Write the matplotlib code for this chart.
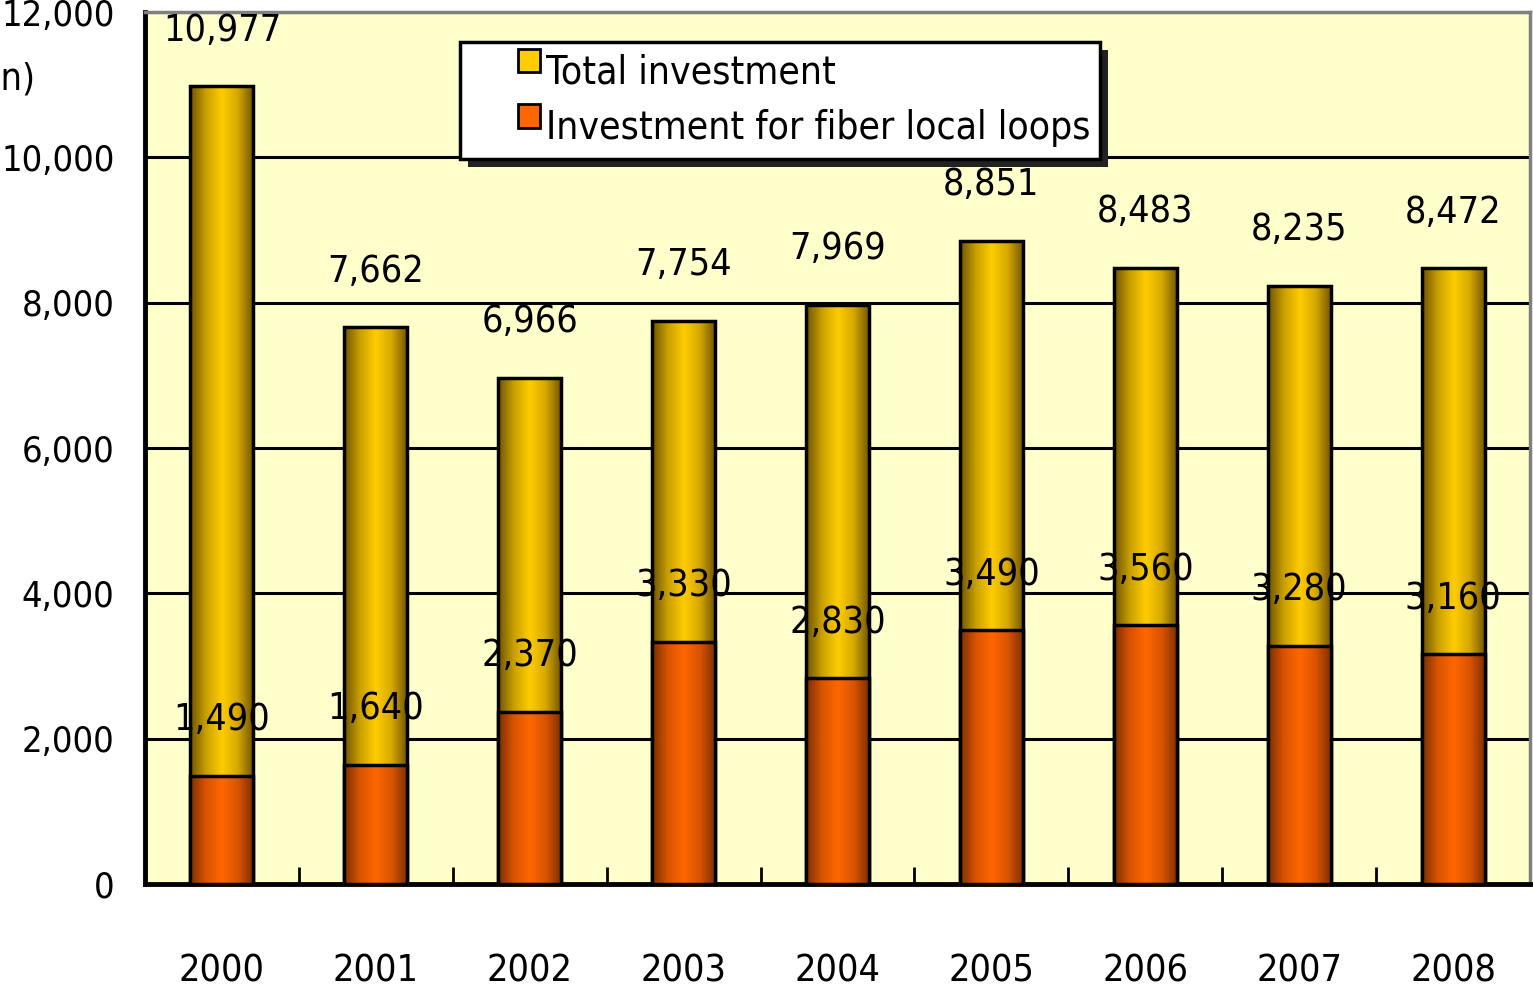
import numpy as np
import matplotlib
matplotlib.use("Agg")
import matplotlib.pyplot as plt
from matplotlib.patches import Rectangle
from matplotlib.legend_handler import HandlerBase
from matplotlib.colors import LinearSegmentedColormap

plt.rcParams['font.family'] = ['DejaVu Sans']
plt.rcParams['font.stretch'] = 'condensed'

years = ["2000", "2001", "2002", "2003", "2004", "2005", "2006", "2007", "2008"]
total = [10977, 7662, 6966, 7754, 7969, 8851, 8483, 8235, 8472]
fiber = [1490, 1640, 2370, 3330, 2830, 3490, 3560, 3280, 3160]
yticks = [0, 2000, 4000, 6000, 8000, 10000, 12000]

yellow_cmap = LinearSegmentedColormap.from_list(
    "yel", ["#6e5200", "#c9a000", "#ffcc00", "#d4a800", "#6e5200"])
orange_cmap = LinearSegmentedColormap.from_list(
    "org", ["#7a2e00", "#d85400", "#ff6600", "#d85400", "#7a2e00"])
grad = np.linspace(0, 1, 256).reshape(1, -1)

fs = 27

fig = plt.figure(figsize=(15.33, 9.96), dpi=100)
ax = fig.add_axes([145 / 1533, 112 / 996, 1385 / 1533, 872 / 996])
ax.set_facecolor("#ffffcc")

x = np.arange(len(years))
bw = 0.41


def gradient_bars(bars, cmap):
    for b in bars:
        x0, w, h = b.get_x(), b.get_width(), b.get_height()
        ax.imshow(grad, cmap=cmap, extent=(x0, x0 + w, 0, h),
                  aspect="auto", zorder=b.get_zorder() - 0.1, interpolation="bicubic")
        b.set_facecolor("none")


tb = ax.bar(x, total, bw, edgecolor="black", linewidth=2.5, zorder=3)
gradient_bars(tb, yellow_cmap)
fb = ax.bar(x, fiber, bw, edgecolor="black", linewidth=2.5, zorder=5)
gradient_bars(fb, orange_cmap)

for xi, t, f in zip(x, total, fiber):
    ax.annotate(f"{t:,}", (xi, t), xytext=(0, 40), textcoords="offset points",
                ha="center", va="center", fontsize=fs, zorder=7)
    ax.annotate(f"{f:,}", (xi, f), xytext=(0, 40), textcoords="offset points",
                ha="center", va="center", fontsize=fs, zorder=7)

ax.set_xlim(-0.5, len(years) - 0.5)
ax.set_ylim(0, 12000)
ax.set_yticks(yticks)
ax.set_yticklabels([f"{v:,}" for v in yticks], fontsize=26)
ax.yaxis.grid(True, color="black", linewidth=2.2, zorder=1)
ax.set_axisbelow(True)
ax.tick_params(axis="y", direction="in", length=10, width=2, pad=22)

ax.set_xticks(x)
ax.set_xticklabels(years, fontsize=fs)
ax.set_xticks(np.arange(0.5, len(years) - 1, 1.0), minor=True)
ax.tick_params(axis="x", which="major", length=0, pad=50)
ax.tick_params(axis="x", which="minor", direction="in", length=12, width=2)

ax.spines["left"].set_linewidth(3.5)
ax.spines["bottom"].set_linewidth(3.5)
ax.spines["top"].set_color("#808080")
ax.spines["top"].set_linewidth(2.5)
ax.spines["right"].set_color("#808080")
ax.spines["right"].set_linewidth(2.5)

fig.text(35 / 1533, 1 - 80 / 996, "(100 million yen)", ha="right", va="center", fontsize=fs)


class GradHandle(HandlerBase):
    def __init__(self, cmap):
        super().__init__()
        self.cmap = cmap

    def create_artists(self, legend, orig_handle, xdescent, ydescent,
                       width, height, fontsize, trans):
        s = fontsize * 0.55
        r = Rectangle((width - s, height * 0.5 - s * 0.1), s, s * 1.1,
                      facecolor=self.cmap(0.5), edgecolor="black", linewidth=2,
                      transform=trans)
        return [r]


h1 = Rectangle((0, 0), 1, 1)
h2 = Rectangle((0, 0), 1, 1)
leg = ax.legend([h1, h2], ["Total investment", "Investment for fiber local loops"],
                handler_map={h1: GradHandle(yellow_cmap), h2: GradHandle(orange_cmap)},
                bbox_to_anchor=(460 / 1533, 1 - 160 / 996, 640 / 1533, 118 / 996),
                bbox_transform=fig.transFigure, loc="upper left", mode="expand",
                fontsize=fs + 1, frameon=True, fancybox=False, shadow=False, framealpha=1,
                borderpad=0.3, labelspacing=0.45, handlelength=1.75, handletextpad=0.15,
                borderaxespad=0)
leg.get_frame().set_edgecolor("black")
leg.get_frame().set_linewidth(2.5)
leg.get_frame().set_facecolor("white")
leg.set_zorder(10)

# drop shadow behind the legend box
fig.canvas.draw()
bb = leg.get_window_extent().transformed(fig.transFigure.inverted())
dx, dy = 8 / 1533, 8 / 996
ax.add_patch(Rectangle((bb.x0 + dx, bb.y0 - dy), bb.width, bb.height,
                       transform=fig.transFigure, facecolor="#222222",
                       edgecolor="none", zorder=9, clip_on=False))

fig.savefig("out.png", dpi=100)
